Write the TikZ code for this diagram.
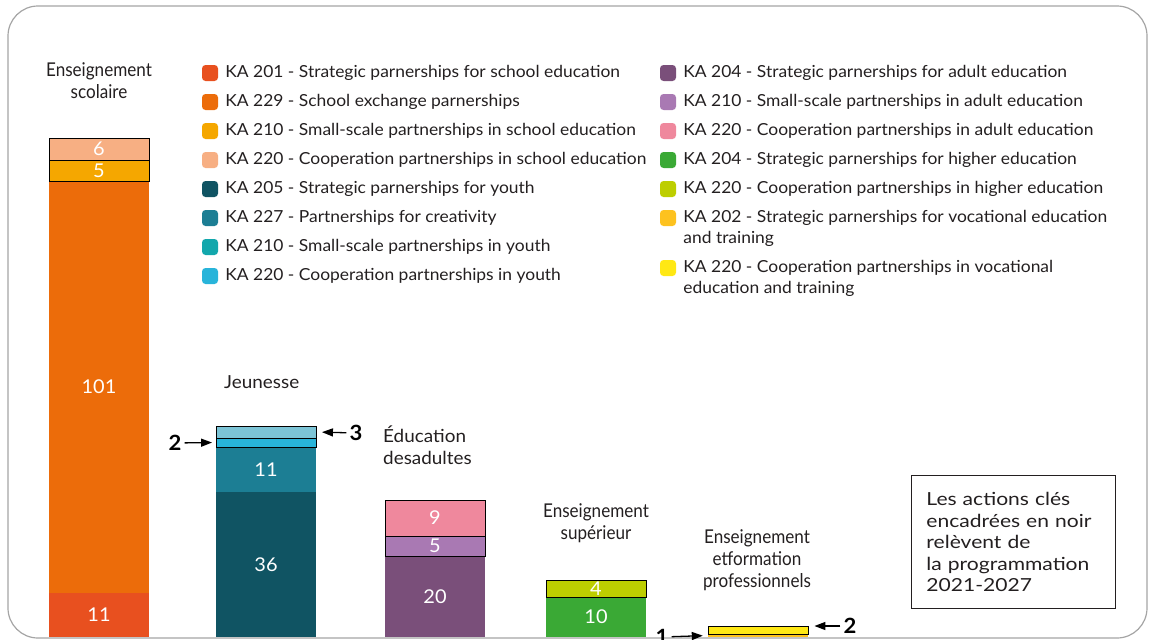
\documentclass[tikz,border=0pt]{standalone}
\usepackage{fontspec}
\setmainfont{Lato}[FakeStretch=1.05]
\newfontfamily\narrowfont[FakeStretch=0.9]{Lato}
\newfontfamily\widefont[FakeStretch=1.17]{Lato}
\usetikzlibrary{arrows.meta, positioning}
\usepackage{xcolor}
\definecolor{school201}{RGB}{232,80,31}
\definecolor{school229}{RGB}{236,108,10}
\definecolor{school210}{RGB}{245,167,0}
\definecolor{school220}{RGB}{247,175,131}
\definecolor{youth205}{RGB}{16,84,99}
\definecolor{youth227}{RGB}{28,126,148}
\definecolor{youth210}{RGB}{18,167,172}
\definecolor{youth220}{RGB}{40,180,218}
\definecolor{youthtop}{RGB}{124,196,214}
\definecolor{adult204}{RGB}{122,79,122}
\definecolor{adult210}{RGB}{169,121,179}
\definecolor{adult220}{RGB}{239,136,157}
\definecolor{higher204}{RGB}{58,169,53}
\definecolor{higher220}{RGB}{189,206,0}
\definecolor{voc202}{RGB}{253,194,31}
\definecolor{voc220}{RGB}{255,232,20}
\definecolor{framegray}{RGB}{165,165,165}
\definecolor{ink}{RGB}{35,31,32}

\begin{document}
\begin{tikzpicture}[
        x=1pt, y=-1pt,
        segment/.style={rectangle, minimum width=100pt, inner sep=0pt, text=white, font=\fontsize{19}{19}\selectfont},
        boxedsegment/.style={segment, draw=black, line width=0.9pt},
        swatch/.style={rectangle, minimum size=16pt, inner sep=0pt, rounded corners=3.5pt},
        legendtext/.style={inner sep=0pt, align=left, text=ink, font=\fontsize{16.6}{21}\selectfont},
        sectortitle/.style={inner sep=0pt, align=center, text=ink, font=\narrowfont\fontsize{19}{22}\selectfont},
        plaintitle/.style={inner sep=0pt, align=left, text=ink, font=\fontsize{18}{22}\selectfont},
        smallcount/.style={inner sep=0pt, font=\bfseries\fontsize{21}{21}\selectfont},
        pointer/.style={-{Triangle[length=11pt, width=8pt]}, line width=1.3pt}
        ]
        \useasboundingbox (0,0) rectangle (1149,640);

        %% Frame
        \draw[framegray, line width=1.2pt, rounded corners=30pt] (8,6) rectangle (1147,638);

        %% Bars
        \foreach \name/\x/\top/\bot/\col/\val/\st in {
            s201/99/593/637/school201/11/segment, s229/99/181/593/school229/101/segment,
            s210/99/160/181/school210/5/boxedsegment, s220/99/138/160/school220/6/boxedsegment,
            j205/266/492/637/youth205/36/segment, j227/266/447/492/youth227/11/segment,
            j210/266/438/447/youth220//boxedsegment, j220/266/426/438/youthtop//boxedsegment,
            a204/435/556/637/adult204/20/segment, a210/435/536/556/adult210/5/boxedsegment,
            a220/435/500/536/adult220/9/boxedsegment,
            h204/596/597/637/higher204/10/segment, h220/596/580/597/higher220/4/boxedsegment,
            v202/758/634/637/voc202//segment, v220/758/626/634/voc220//boxedsegment} {
            \node[\st, fill=\col, minimum height={(\bot-\top)*1pt}] (\name) at (\x, {(\top+\bot)/2}) {\val};
        }

        %% Sector titles
        \node[sectortitle] (tscol) at (99,81) {Enseignement\\scolaire};
        \node[plaintitle, anchor=west] (tjeun) at (224,382) {Jeunesse};
        \node[plaintitle, anchor=west] (tadul) at (383,445) {Éducation\\desadultes};
        \node[sectortitle] (tsup) at (596,523) {Enseignement\\supérieur};
        \node[sectortitle] (tvoc) at (757,560) {Enseignement\\etformation\\professionnels};

        %% Small counts
        \node[smallcount] (cj2) at (175,443) {2};
        \node[smallcount] (cj3) at (356,433) {3};
        \node[smallcount] (cv1) at (662,637) {1};
        \node[smallcount] (cv2) at (850,626) {2};
        \draw[pointer, shorten <=3pt, shorten >=3.5pt] (cj2) -- (j210.west);
        \draw[pointer, shorten <=3pt, shorten >=5.5pt] (cj3) -- (j220.east);
        \draw[pointer, shorten <=3pt, shorten >=5pt] (cv1) -- (v202.west);
        \draw[pointer, shorten <=3pt, shorten >=6pt] (cv2) -- (cv2 -| v220.east);

        %% Legend
        \foreach \i/\y/\col/\txt in {
            1/73/school201/{KA 201 - Strategic parnerships for school education},
            2/102/school229/{KA 229 - School exchange parnerships},
            3/131/school210/{KA 210 - Small-scale partnerships in school education},
            4/160/school220/{KA 220 - Cooperation partnerships in school education},
            5/189/youth205/{KA 205 - Strategic parnerships for youth},
            6/218/youth227/{KA 227 - Partnerships for creativity},
            7/247/youth210/{KA 210 - Small-scale partnerships in youth},
            8/276/youth220/{KA 220 - Cooperation partnerships in youth}} {
            \node[swatch, fill=\col] (swl\i) at (210,\y) {};
            \node[legendtext, right=7pt of swl\i] (lgl\i) {\txt};
        }
        \foreach \i/\y/\dy/\col/\txt in {
            1/73/0/adult204/{KA 204 - Strategic parnerships for adult education},
            2/102/0/adult210/{KA 210 - Small-scale partnerships in adult education},
            3/131/0/adult220/{KA 220 - Cooperation partnerships in adult education},
            4/160/0/higher204/{KA 204 - Strategic parnerships for higher education},
            5/189/0/higher220/{KA 220 - Cooperation partnerships in higher education},
            6/218/10.5/voc202/{KA 202 - Strategic parnerships for vocational education\\and training},
            7/268/10.5/voc220/{KA 220 - Cooperation partnerships in vocational\\education and training}} {
            \node[swatch, fill=\col] (swr\i) at (668,\y) {};
            \node[legendtext, anchor=west] (lgr\i) at ([xshift=7pt, yshift=-\dy pt]swr\i.east) {\txt};
        }

        %% Note
        \node[draw=ink, line width=0.9pt, anchor=north west, minimum width=204pt, minimum height=133pt,
              text width=174pt, inner xsep=15pt, align=left, text=ink, font=\widefont\fontsize{18}{21.5}\selectfont]
              (note) at (911,475) {Les~actions~clés\\encadrées~en~noir\\relèvent~de\\la~programmation\\2021-2027};
\end{tikzpicture}
\end{document}
